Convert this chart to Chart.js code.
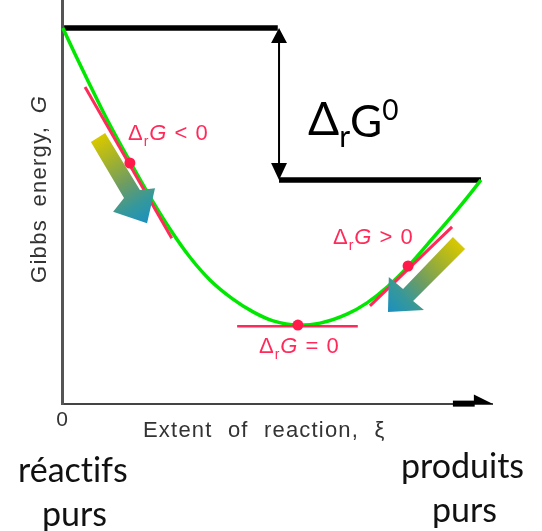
<!DOCTYPE html>
<html>
<head>
<meta charset="utf-8">
<title>Gibbs energy</title>
<script src="https://cdn.jsdelivr.net/npm/chart.js@4"></script>
<style>
  html, body { margin: 0; padding: 0; background: #fff; }
  #wrap { width: 542px; height: 531px; }
</style>
</head>
<body>
<div id="wrap"><canvas id="chart"></canvas></div>
<script>
// extent of reaction (0 = pure reactants, 1 = pure products), G scaled the same way
const curveX = [0.002,0.031,0.060,0.112,0.160,0.210,0.258,0.305,0.353,0.408,0.456,0.504,0.563,0.616,0.680,0.728,0.776,0.831,0.885,0.933,0.974,1];
const curveY = [1,0.931,0.864,0.747,0.649,0.551,0.465,0.391,0.330,0.279,0.245,0.221,0.210,0.215,0.239,0.269,0.311,0.372,0.441,0.503,0.559,0.596];

const dotX = [0.162,0.563,0.826];
const dotY = [0.641,0.210,0.367];

const tangentLeftX = [0.055,0.262];
const tangentLeftY = [0.843,0.441];
const tangentMidX = [0.418,0.706];
const tangentMidY = [0.207,0.207];
const tangentRightX = [0.735,0.931];
const tangentRightY = [0.261,0.471];

const levelLeftX = [0.005,0.515];
const levelLeftY = [1,1];
const levelRightX = [0.518,1];
const levelRightY = [0.596,0.596];

const spanX = [0.518,0.518];
const spanY = [0.96,0.641];
const headTopX = [0.518,0.499,0.537];
const headTopY = [1,0.96,0.96];
const headBottomX = [0.518,0.499,0.537];
const headBottomY = [0.596,0.641,0.641];

const arrowLeftX = [0.069,0.103,0.186,0.222,0.203,0.122,0.148];
const arrowLeftY = [0.697,0.721,0.569,0.574,0.481,0.511,0.548];
const arrowRightX = [0.933,0.962,0.838,0.864,0.778,0.780,0.814];
const arrowRightY = [0.444,0.412,0.274,0.250,0.245,0.338,0.306];

const axisEndX = [0.933,0.985];
const axisEndY = [0.001,0.001];
const axisHeadX = [0.983,1.0263,0.983];
const axisHeadY = [0.025,0.001,-0.023];

const xTicks = [0];

const pts = (xs, ys) => xs.map((x, i) => ({x: x, y: ys[i]}));

const line = (xs, ys, color, width) => ({
    data: pts(xs, ys),
    showLine: true,
    clip: false,
    borderColor: color,
    borderWidth: width,
    pointRadius: 0,
    borderCapStyle: 'butt'
});

const shape = (xs, ys, color) => ({
    data: pts(xs, ys),
    showLine: true,
    clip: false,
    fill: 'shape',
    backgroundColor: color,
    borderWidth: 0,
    pointRadius: 0
});

// yellow tail to blue tip, taken along the arrow in data units
const arrowFill = (x0, y0, x1, y1) => (ctx) => {
    const c = ctx.chart;
    if (!c.chartArea) return '#3a9a9a';
    const g = c.ctx.createLinearGradient(
        c.scales.x.getPixelForValue(x0), c.scales.y.getPixelForValue(y0),
        c.scales.x.getPixelForValue(x1), c.scales.y.getPixelForValue(y1));
    g.addColorStop(0, '#d8c800');
    g.addColorStop(0.25, '#a8b428');
    g.addColorStop(0.55, '#6c9c64');
    g.addColorStop(0.78, '#36989a');
    g.addColorStop(1, '#1a90c0');
    return g;
};

const RED = '#ff2a5a';
const DARK = '#333';
const SANS = '"Liberation Sans", sans-serif';
const BIG = '34px Lato, sans-serif';

// text runs: [text, font, dy]
const redLabel = (op) => [
    ['\u0394', '22px ' + SANS, 0],
    ['r', '14px ' + SANS, 6],
    ['G', 'italic 22px ' + SANS, 0],
    [' ' + op + ' 0', '22px ' + SANS, 0]
];

const labels = [
    {x: 128, y: 140, color: RED, spacing: '1px', words: '1.5px', runs: redLabel('<')},
    {x: 333, y: 244, color: RED, spacing: '1px', words: '1.5px', runs: redLabel('>')},
    {x: 259, y: 353, color: RED, spacing: '1px', words: '1.5px', runs: redLabel('=')},
    {x: 308, y: 135, color: '#000', runs: [
        ['\u0394', '46px Lato, ' + SANS, 0],
        ['r', '30px Lato, ' + SANS, 12],
        ['G', '44px Lato, ' + SANS, 2],
        ['0', '28px Lato, ' + SANS, -15]
    ]},
    {x: 143, y: 437, color: DARK, spacing: '1.2px', words: '8px', runs: [['Extent of reaction, \u03be', '22px ' + SANS, 0]]},
    {x: 18, y: 482, color: '#111', runs: [['réactifs', BIG, 0]]},
    {x: 42, y: 526, color: '#111', runs: [['purs', BIG, 0]]},
    {x: 401, y: 478, color: '#111', runs: [['produits', BIG, 0]]},
    {x: 432, y: 522, color: '#111', runs: [['purs', BIG, 0]]}
];

const textPlugin = {
    id: 'chartText',
    afterDatasetsDraw(chart) {
        const c = chart.ctx;
        c.save();
        c.textBaseline = 'alphabetic';
        c.textRendering = 'optimizeSpeed';
        labels.forEach((l) => {
            let x = l.x;
            c.fillStyle = l.color;
            c.letterSpacing = l.spacing || '0px';
            c.wordSpacing = l.words || '0px';
            l.runs.forEach((r) => {
                c.font = r[1];
                c.fillText(r[0], x, l.y + r[2]);
                x += c.measureText(r[0]).width;
            });
        });
        // y axis label, rotated
        c.translate(46, 283);
        c.rotate(-Math.PI / 2);
        c.fillStyle = DARK;
        c.textAlign = 'left';
        c.letterSpacing = '1.3px';
        c.wordSpacing = '5px';
        c.font = '22px ' + SANS;
        const t = 'Gibbs energy, ';
        const w = c.measureText(t).width;
        c.fillText(t, 0, 0);
        c.font = 'italic 22px ' + SANS;
        c.fillText('G', w, 0);
        c.restore();
    }
};

new Chart(document.getElementById('chart'), {
    type: 'scatter',
    data: {
        datasets: [
            {data: pts(dotX, dotY), backgroundColor: '#ff1a4a', borderWidth: 0, pointRadius: 5.5},
            shape(arrowLeftX, arrowLeftY, arrowFill(0.086, 0.709, 0.203, 0.481)),
            shape(arrowRightX, arrowRightY, arrowFill(0.947, 0.428, 0.778, 0.245)),
            line(tangentLeftX, tangentLeftY, RED, 3),
            line(tangentMidX, tangentMidY, RED, 2.5),
            line(tangentRightX, tangentRightY, RED, 3),
            Object.assign(line(curveX, curveY, '#00e800', 3.5), {cubicInterpolationMode: 'monotone'}),
            line(levelLeftX, levelLeftY, '#000', 5.5),
            line(levelRightX, levelRightY, '#000', 5.5),
            line(spanX, spanY, '#000', 2),
            shape(headTopX, headTopY, '#000'),
            shape(headBottomX, headBottomY, '#000'),
            line(axisEndX, axisEndY, '#000', 6),
            shape(axisHeadX, axisHeadY, '#000')
        ]
    },
    options: {
        responsive: true,
        maintainAspectRatio: false,
        animation: false,
        layout: {autoPadding: false, padding: {left: 62, right: 50, top: 0, bottom: 0}},
        plugins: {legend: {display: false}, tooltip: {enabled: false}},
        scales: {
            x: {
                type: 'linear',
                min: 0,
                max: 1.0263,
                grid: {display: false, tickLength: 0},
                border: {color: '#444', width: 2},
                afterBuildTicks: (s) => { s.ticks = xTicks.map((v) => ({value: v})); },
                afterFit: (s) => { s.height = 127; s.paddingLeft = 0; s.paddingRight = 0; },
                ticks: {
                    autoSkip: false, maxRotation: 0, padding: 4,
                    color: DARK, font: {family: 'Liberation Sans', size: 21},
                    callback: (v) => String(v)
                }
            },
            y: {
                type: 'linear',
                min: 0,
                max: 1.0745,
                grid: {display: false},
                border: {color: '#555', width: 3},
                afterFit: (s) => { s.width = 0; s.paddingTop = 0; s.paddingBottom = 0; },
                ticks: {display: false}
            }
        }
    },
    plugins: [textPlugin]
});
</script>
</body>
</html>
